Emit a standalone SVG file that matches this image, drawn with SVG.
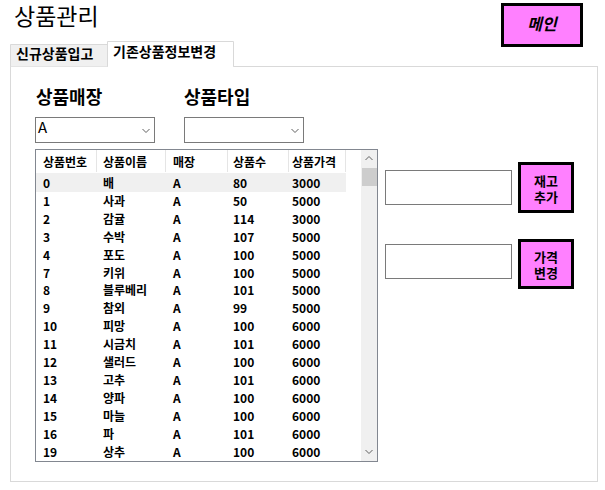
<svg xmlns="http://www.w3.org/2000/svg" width="605" height="490" viewBox="0 0 605 490">
<style>
text{font-family:"Noto Sans CJK KR","Noto Sans",sans-serif;fill:#000}
.title{font-size:23px}
.tab{font-size:14px;font-weight:600}
.lbl{font-size:18px;font-weight:600}
.cell{font-size:12px;font-weight:600}
.btn{fill:#ff80ff;stroke:#000;stroke-width:3}
.btxt{font-size:13px;font-weight:700;text-anchor:middle}
.box{fill:#fff;stroke:#7a7a7a;stroke-width:1}
.chev{fill:none;stroke:#606060;stroke-width:1}
.sep{stroke:#e5e5e5;stroke-width:1}
</style>
<rect width="605" height="490" fill="#fff"/>
<g id="title"><text class="title" x="14" y="25">상품관리</text></g>
<g id="panel"><rect x="10.5" y="66.5" width="587" height="415" fill="#fff" stroke="#d9d9d9"/></g>
<g id="tab1"><path d="M10.5 66.5 V44.5 H107.5 V66.5" fill="#f0f0f0" stroke="#d9d9d9"/><text class="tab" x="16" y="59">신규상품입고</text></g>
<g id="tab2"><path d="M107.5 66.5 V41.5 H233.5 V66.5" fill="#fff" stroke="#d9d9d9"/><line x1="108" y1="66.5" x2="233" y2="66.5" stroke="#fff"/><text class="tab" x="113" y="57">기존상품정보변경</text></g>
<g id="menu"><rect class="btn" x="502.5" y="4.5" width="79" height="41"/><text class="btxt" x="542" y="30" style="font-size:16px;font-style:italic">메인</text></g>
<g id="label-store"><text class="lbl" x="36" y="104">상품매장</text></g>
<g id="label-type"><text class="lbl" x="184" y="104">상품타입</text></g>
<g id="combo-store"><rect class="box" x="35.5" y="117.5" width="119" height="25"/><text x="38" y="133" style="font-size:15px">A</text><path class="chev" d="M142.5 129 L146 132.5 L149.5 129"/></g>
<g id="combo-type"><rect class="box" x="184.5" y="117.5" width="119" height="25"/><path class="chev" d="M291.5 129 L295 132.5 L298.5 129"/></g>
<g id="list">
<rect x="35.5" y="149.5" width="342" height="312" fill="#fff" stroke="#828790"/>
<rect x="361" y="150" width="16" height="311" fill="#f0f0f0"/>
<rect x="362" y="168" width="15" height="18" fill="#cdcdcd"/>
<path class="chev" d="M365.5 160 L369 156.5 L372.5 160"/>
<path class="chev" d="M365.5 450 L369 453.5 L372.5 450"/>
<line class="sep" x1="96.5" y1="150" x2="96.5" y2="172"/>
<line class="sep" x1="165.5" y1="150" x2="165.5" y2="172"/>
<line class="sep" x1="227.5" y1="150" x2="227.5" y2="172"/>
<line class="sep" x1="288.5" y1="150" x2="288.5" y2="172"/>
<line class="sep" x1="345.5" y1="150" x2="345.5" y2="172"/>
<rect x="36" y="173" width="310" height="19" fill="#f0f0f0"/>
<g class="cell">
<text class="cell" x="43" y="167">상품번호</text><text class="cell" x="103" y="167">상품이름</text><text class="cell" x="173" y="167">매장</text><text class="cell" x="233" y="167">상품수</text><text class="cell" x="292" y="167">상품가격</text>
<text class="cell" x="43" y="188">0</text><text class="cell" x="103" y="188">배</text><text class="cell" x="173" y="188">A</text><text class="cell" x="233" y="188">80</text><text class="cell" x="292" y="188">3000</text>
<text class="cell" x="43" y="206">1</text><text class="cell" x="103" y="206">사과</text><text class="cell" x="173" y="206">A</text><text class="cell" x="233" y="206">50</text><text class="cell" x="292" y="206">5000</text>
<text class="cell" x="43" y="224">2</text><text class="cell" x="103" y="224">감귤</text><text class="cell" x="173" y="224">A</text><text class="cell" x="233" y="224">114</text><text class="cell" x="292" y="224">3000</text>
<text class="cell" x="43" y="242">3</text><text class="cell" x="103" y="242">수박</text><text class="cell" x="173" y="242">A</text><text class="cell" x="233" y="242">107</text><text class="cell" x="292" y="242">5000</text>
<text class="cell" x="43" y="260">4</text><text class="cell" x="103" y="260">포도</text><text class="cell" x="173" y="260">A</text><text class="cell" x="233" y="260">100</text><text class="cell" x="292" y="260">5000</text>
<text class="cell" x="43" y="278">7</text><text class="cell" x="103" y="278">키위</text><text class="cell" x="173" y="278">A</text><text class="cell" x="233" y="278">100</text><text class="cell" x="292" y="278">5000</text>
<text class="cell" x="43" y="295">8</text><text class="cell" x="103" y="295">블루베리</text><text class="cell" x="173" y="295">A</text><text class="cell" x="233" y="295">101</text><text class="cell" x="292" y="295">5000</text>
<text class="cell" x="43" y="313">9</text><text class="cell" x="103" y="313">참외</text><text class="cell" x="173" y="313">A</text><text class="cell" x="233" y="313">99</text><text class="cell" x="292" y="313">5000</text>
<text class="cell" x="43" y="331">10</text><text class="cell" x="103" y="331">피망</text><text class="cell" x="173" y="331">A</text><text class="cell" x="233" y="331">100</text><text class="cell" x="292" y="331">6000</text>
<text class="cell" x="43" y="349">11</text><text class="cell" x="103" y="349">시금치</text><text class="cell" x="173" y="349">A</text><text class="cell" x="233" y="349">101</text><text class="cell" x="292" y="349">6000</text>
<text class="cell" x="43" y="367">12</text><text class="cell" x="103" y="367">샐러드</text><text class="cell" x="173" y="367">A</text><text class="cell" x="233" y="367">100</text><text class="cell" x="292" y="367">6000</text>
<text class="cell" x="43" y="385">13</text><text class="cell" x="103" y="385">고추</text><text class="cell" x="173" y="385">A</text><text class="cell" x="233" y="385">101</text><text class="cell" x="292" y="385">6000</text>
<text class="cell" x="43" y="403">14</text><text class="cell" x="103" y="403">양파</text><text class="cell" x="173" y="403">A</text><text class="cell" x="233" y="403">100</text><text class="cell" x="292" y="403">6000</text>
<text class="cell" x="43" y="421">15</text><text class="cell" x="103" y="421">마늘</text><text class="cell" x="173" y="421">A</text><text class="cell" x="233" y="421">100</text><text class="cell" x="292" y="421">6000</text>
<text class="cell" x="43" y="439">16</text><text class="cell" x="103" y="439">파</text><text class="cell" x="173" y="439">A</text><text class="cell" x="233" y="439">101</text><text class="cell" x="292" y="439">6000</text>
<text class="cell" x="43" y="457">19</text><text class="cell" x="103" y="457">상추</text><text class="cell" x="173" y="457">A</text><text class="cell" x="233" y="457">100</text><text class="cell" x="292" y="457">6000</text>
</g>
</g>
<g id="input-stock"><rect class="box" x="385.5" y="170.5" width="126" height="34"/></g>
<g id="btn-stock"><rect class="btn" x="519.5" y="163.5" width="53" height="48"/><text class="btxt" x="546" y="186">재고</text><text class="btxt" x="546" y="202">추가</text></g>
<g id="input-price"><rect class="box" x="385.5" y="244.5" width="126" height="34"/></g>
<g id="btn-price"><rect class="btn" x="519.5" y="240.5" width="53" height="47"/><text class="btxt" x="546" y="262">가격</text><text class="btxt" x="546" y="278">변경</text></g>
<g id="connectors"></g>
</svg>
